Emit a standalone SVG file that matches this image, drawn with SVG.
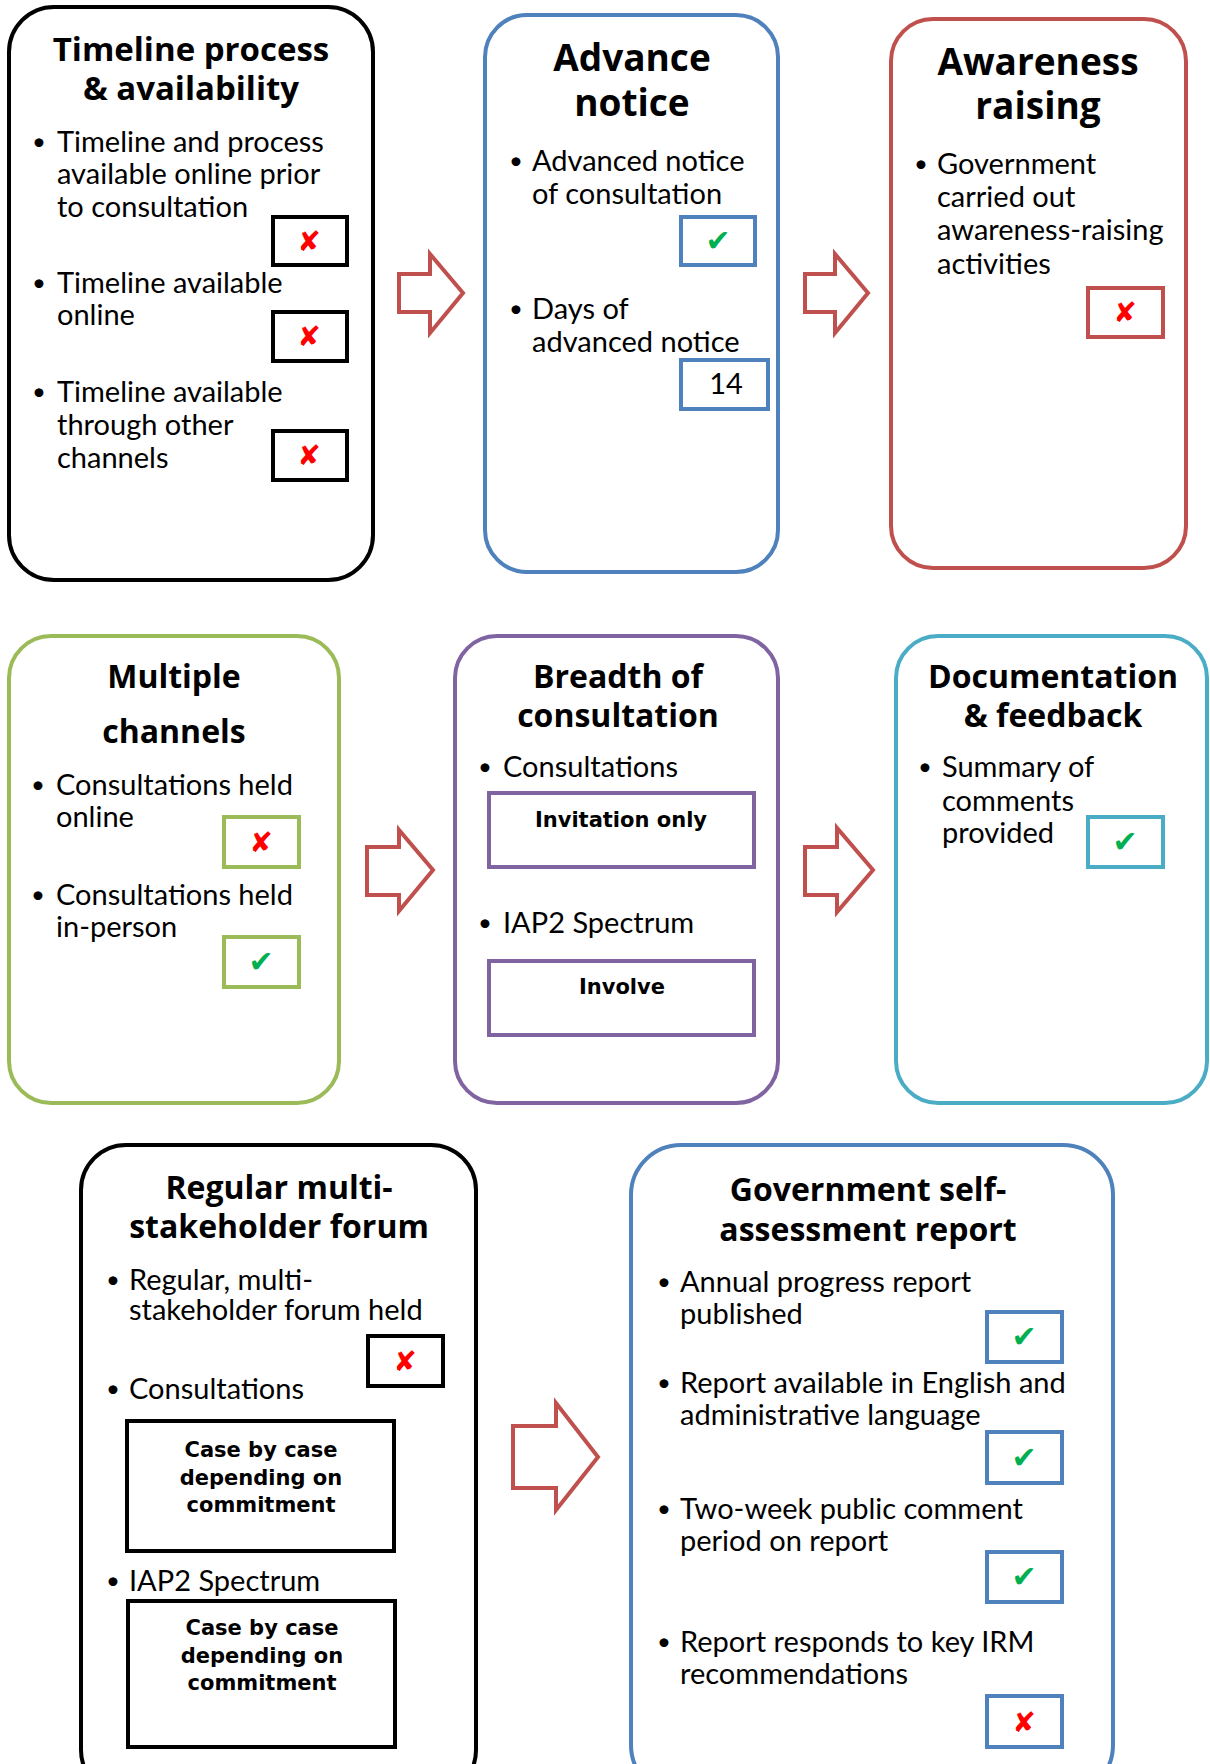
<svg xmlns="http://www.w3.org/2000/svg" width="1210" height="1764" viewBox="0 0 1210 1764">
<style>
.box{fill:#fff;stroke-width:4}
.cb{fill:#fff;stroke-width:4}
.title{font-family:"Open Sans",Lato,sans-serif;font-weight:700;text-anchor:middle;fill:#000}
.body{font-family:Lato,"Open Sans",sans-serif;font-size:29px;fill:#000}
.bul{font-family:Lato,"Open Sans",sans-serif;font-size:24px;fill:#000}
.heavy{font-family:"DejaVu Sans",Verdana,sans-serif;font-weight:700;font-size:21px;text-anchor:middle;fill:#000}
.ok{font-family:"DejaVu Sans",sans-serif;font-weight:700;font-size:30px;text-anchor:middle;fill:#00B050}
.no{font-family:"DejaVu Sans",sans-serif;font-weight:700;font-size:28px;text-anchor:middle;fill:#FF0000}
.arrow{fill:#fff;stroke:#C0504D;stroke-width:4;stroke-linejoin:miter}
.k{stroke:#000}.b{stroke:#4F81BD}.r{stroke:#C0504D}.g{stroke:#9BBB59}.p{stroke:#8064A2}.t{stroke:#4BACC6}
</style>
<rect width="1210" height="1764" fill="#fff"/>

<g id="connectors">
<polygon class="arrow" points="399,274 430,274 430,254 463,293 430,333 430,312 399,312"/>
<polygon class="arrow" points="805,274 835,274 835,254 868,293 835,333 835,312 805,312"/>
<polygon class="arrow" points="367,847 399,847 399,830 433,870 399,911 399,895 367,895"/>
<polygon class="arrow" points="805,847 837,847 837,828 873,870 837,912 837,895 805,895"/>
<polygon class="arrow" points="513,1426 556,1426 556,1403 598,1457 556,1510 556,1488 513,1488"/>
</g>

<g id="timeline">
<rect class="box k" x="9" y="7" width="364" height="573" rx="45" stroke-width="5"/>
<text class="title" font-size="33" x="191" y="61">Timeline process</text>
<text class="title" font-size="33" x="191" y="100">&amp; availability</text>
<text class="bul" x="32" y="150">•</text>
<text class="body" x="57" y="152">Timeline and process</text>
<text class="body" x="57" y="184">available online prior</text>
<text class="body" x="57" y="217">to consultation</text>
<rect class="cb k" x="273" y="217" width="74" height="48"/>
<text class="no" x="309" y="251">✘</text>
<text class="bul" x="32" y="291">•</text>
<text class="body" x="57" y="293">Timeline available</text>
<text class="body" x="57" y="325">online</text>
<rect class="cb k" x="273" y="312" width="74" height="49"/>
<text class="no" x="309" y="346">✘</text>
<text class="bul" x="32" y="400">•</text>
<text class="body" x="57" y="402">Timeline available</text>
<text class="body" x="57" y="435">through other</text>
<text class="body" x="57" y="468">channels</text>
<rect class="cb k" x="273" y="431" width="74" height="49"/>
<text class="no" x="309" y="465">✘</text>
</g>

<g id="advance">
<rect class="box b" x="485" y="15" width="293" height="557" rx="42"/>
<text class="title" font-size="37" x="632" y="71">Advance</text>
<text class="title" font-size="37" x="632" y="116">notice</text>
<text class="bul" x="509" y="169">•</text>
<text class="body" x="532" y="171">Advanced notice</text>
<text class="body" x="532" y="204">of consultation</text>
<rect class="cb b" x="681" y="217" width="74" height="48"/>
<text class="ok" x="718" y="251">✔</text>
<text class="bul" x="509" y="317">•</text>
<text class="body" x="532" y="319">Days of</text>
<text class="body" x="532" y="352">advanced notice</text>
<rect class="cb b" x="681" y="360" width="87" height="49"/>
<text class="body" font-size="23" x="726" y="394" text-anchor="middle">14</text>
</g>

<g id="awareness">
<rect class="box r" x="891" y="19" width="295" height="549" rx="42"/>
<text class="title" font-size="37" x="1038" y="75">Awareness</text>
<text class="title" font-size="37" x="1038" y="119">raising</text>
<text class="bul" x="914" y="172">•</text>
<text class="body" x="937" y="174">Government</text>
<text class="body" x="937" y="207">carried out</text>
<text class="body" x="937" y="240">awareness-raising</text>
<text class="body" x="937" y="274">activities</text>
<rect class="cb r" x="1088" y="288" width="75" height="49"/>
<text class="no" x="1125" y="322">✘</text>
</g>

<g id="multiple">
<rect class="box g" x="9" y="636" width="330" height="467" rx="42"/>
<text class="title" font-size="32" x="174" y="688">Multiple</text>
<text class="title" font-size="32" x="174" y="743">channels</text>
<text class="bul" x="31" y="793">•</text>
<text class="body" x="56" y="795">Consultations held</text>
<text class="body" x="56" y="827">online</text>
<rect class="cb g" x="224" y="817" width="75" height="50"/>
<text class="no" x="261" y="852">✘</text>
<text class="bul" x="31" y="903">•</text>
<text class="body" x="56" y="905">Consultations held</text>
<text class="body" x="56" y="937">in-person</text>
<rect class="cb g" x="224" y="937" width="75" height="50"/>
<text class="ok" x="261" y="972">✔</text>
</g>

<g id="breadth">
<rect class="box p" x="455" y="636" width="323" height="467" rx="42"/>
<text class="title" font-size="32" x="618" y="688">Breadth of</text>
<text class="title" font-size="32" x="618" y="727">consultation</text>
<text class="bul" x="478" y="775">•</text>
<text class="body" x="503" y="777">Consultations</text>
<rect class="cb p" x="489" y="793" width="265" height="74"/>
<text class="heavy" x="621" y="827">Invitation only</text>
<text class="bul" x="478" y="931">•</text>
<text class="body" x="503" y="933">IAP2 Spectrum</text>
<rect class="cb p" x="489" y="961" width="265" height="74"/>
<text class="heavy" x="622" y="994">Involve</text>
</g>

<g id="documentation">
<rect class="box t" x="896" y="636" width="311" height="467" rx="42"/>
<text class="title" font-size="32" x="1053" y="688">Documentation</text>
<text class="title" font-size="32" x="1053" y="727">&amp; feedback</text>
<text class="bul" x="918" y="775">•</text>
<text class="body" x="942" y="777">Summary of</text>
<text class="body" x="942" y="811">comments</text>
<text class="body" x="942" y="843">provided</text>
<rect class="cb t" x="1088" y="817" width="75" height="50"/>
<text class="ok" x="1125" y="852">✔</text>
</g>

<g id="forum">
<rect class="box k" x="81" y="1145" width="395" height="650" rx="45" stroke-width="5"/>
<text class="title" font-size="32" x="279" y="1199">Regular multi-</text>
<text class="title" font-size="32" x="279" y="1238">stakeholder forum</text>
<text class="bul" x="106" y="1288">•</text>
<text class="body" x="129" y="1290">Regular, multi-</text>
<text class="body" x="129" y="1320">stakeholder forum held</text>
<rect class="cb k" x="368" y="1336" width="75" height="50"/>
<text class="no" x="405" y="1371">✘</text>
<text class="bul" x="106" y="1397">•</text>
<text class="body" x="129" y="1399">Consultations</text>
<rect class="cb k" x="127" y="1421" width="267" height="130"/>
<text class="heavy" x="261" y="1457">Case by case</text>
<text class="heavy" x="261" y="1485">depending on</text>
<text class="heavy" x="261" y="1512">commitment</text>
<text class="bul" x="106" y="1589">•</text>
<text class="body" x="129" y="1591">IAP2 Spectrum</text>
<rect class="cb k" x="128" y="1601" width="267" height="146"/>
<text class="heavy" x="262" y="1635">Case by case</text>
<text class="heavy" x="262" y="1663">depending on</text>
<text class="heavy" x="262" y="1690">commitment</text>
</g>

<g id="selfassessment">
<rect class="box b" x="631" y="1145" width="482" height="650" rx="50"/>
<text class="title" font-size="32" x="868" y="1201">Government self-</text>
<text class="title" font-size="32" x="868" y="1241">assessment report</text>
<text class="bul" x="657" y="1290">•</text>
<text class="body" x="680" y="1292">Annual progress report</text>
<text class="body" x="680" y="1324">published</text>
<rect class="cb b" x="987" y="1312" width="75" height="50"/>
<text class="ok" x="1024" y="1347">✔</text>
<text class="bul" x="657" y="1391">•</text>
<text class="body" x="680" y="1393">Report available in English and</text>
<text class="body" x="680" y="1425">administrative language</text>
<rect class="cb b" x="987" y="1432" width="75" height="51"/>
<text class="ok" x="1024" y="1468">✔</text>
<text class="bul" x="657" y="1517">•</text>
<text class="body" x="680" y="1519">Two-week public comment</text>
<text class="body" x="680" y="1551">period on report</text>
<rect class="cb b" x="987" y="1552" width="75" height="50"/>
<text class="ok" x="1024" y="1587">✔</text>
<text class="bul" x="657" y="1650">•</text>
<text class="body" x="680" y="1652">Report responds to key IRM</text>
<text class="body" x="680" y="1684">recommendations</text>
<rect class="cb b" x="987" y="1696" width="75" height="51"/>
<text class="no" x="1024" y="1732">✘</text>
</g>
</svg>
